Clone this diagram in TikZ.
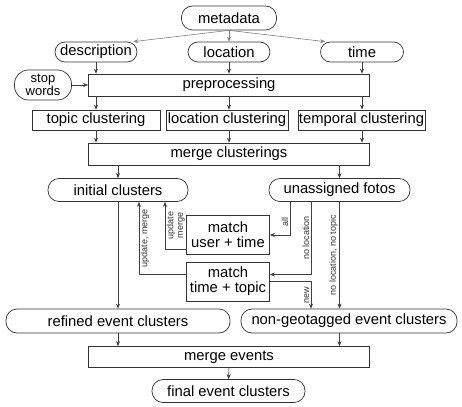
\documentclass[tikz,border=0pt]{standalone}
\usepackage{fontspec}
\setmainfont{Liberation Sans}
\usetikzlibrary{arrows.meta}

\begin{document}
\begin{tikzpicture}[x=1pt,y=-1pt,
	font=\fontsize{14.8}{15}\selectfont,
	box/.style={draw=black!80,line width=0.7pt,inner sep=0pt,align=center},
	pill/.style={box,rounded corners=11pt},
	arr/.style={draw=black!75,line width=0.6pt,-{Stealth[length=5pt,width=4pt]}},
	arrlight/.style={arr,draw=black!50},
	lbl/.style={font=\fontsize{9}{9.5}\selectfont,text=black!80,rotate=90,inner sep=1.5pt,align=center}]
	\useasboundingbox (0,0) rectangle (462,406);
	% inputs
	\node[pill,minimum width=95pt,minimum height=24pt] (meta) at (229,18) {metadata};
	\node[pill,minimum width=82pt,minimum height=20pt,rounded corners=10pt] (desc) at (96,52) {description};
	\node[pill,minimum width=82pt,minimum height=20pt,rounded corners=10pt] (loc) at (229,52) {location};
	\node[pill,minimum width=83pt,minimum height=20pt,rounded corners=10pt] (time) at (362,52) {time};
	\node[pill,minimum width=57pt,minimum height=30pt,rounded corners=14pt,font=\fontsize{13}{13}\selectfont] (stop) at (43,85) {stop\\words};
	\node[box,minimum width=281pt,minimum height=22pt] (pre) at (229,85) {preprocessing};
	% clusterings
	\node[box,minimum width=128pt,minimum height=20pt] (topic) at (96,120) {topic clustering};
	\node[box,minimum width=122pt,minimum height=20pt] (loccl) at (227,120) {location clustering};
	\node[box,minimum width=127pt,minimum height=20pt] (temp) at (361.5,120) {temporal clustering};
	\node[box,minimum width=281pt,minimum height=22pt] (mergecl) at (229,154) {merge clusterings};
	\node[pill,minimum width=140pt,minimum height=23pt] (init) at (118,190) {initial clusters};
	\node[pill,minimum width=141pt,minimum height=23pt] (unas) at (339.5,190) {unassigned fotos};
	% matching
	\node[box,minimum width=83pt,minimum height=39pt] (mut) at (228,235) {match\\user + time};
	\node[box,minimum width=83pt,minimum height=39pt] (mtt) at (228,281.5) {match\\time + topic};
	% results
	\node[pill,minimum width=224pt,minimum height=24pt] (refined) at (118,321) {refined event clusters};
	\node[pill,minimum width=216pt,minimum height=24pt] (nongeo) at (349,321) {non-geotagged event clusters};
	\node[box,minimum width=281pt,minimum height=21pt] (mergeev) at (229,357) {merge events};
	\node[pill,minimum width=153pt,minimum height=23pt] (final) at (228.5,391) {final event clusters};

	\draw[arrlight] (meta.south) -- ([xshift=-4pt]desc.north east);
	\draw[arrlight] (meta.south) -- (loc.north);
	\draw[arrlight] (meta.south) -- ([xshift=5pt]time.north west);
	\draw[arr] (desc.south) -- (desc.south |- pre.north);
	\draw[arr] (loc.south) -- (loc.south |- pre.north);
	\draw[arr] (time.south) -- (time.south |- pre.north);
	\draw[arr] (stop.east) -- (pre.west);
	\draw[arr] (topic.north |- pre.south) -- (topic.north);
	\draw[arr] (pre.south) -- (pre.south |- loccl.north);
	\draw[arr] (time.south |- pre.south) -- (time.south |- temp.north);
	\draw[arr] (topic.south) -- (topic.south |- mergecl.north);
	\draw[arr] (pre.south |- loccl.south) -- (pre.south |- mergecl.north);
	\draw[arr] (time.south |- temp.south) -- (time.south |- mergecl.north);
	\draw[arr] (init.north |- mergecl.south) -- (init.north);
	\draw[arr] (unas.north |- mergecl.south) -- (unas.north);
	\draw[arr] (init.south) -- (init.south |- refined.north);
	\draw[arr] (unas.south) -- node[lbl,anchor=south] {no location, no topic} (unas.south |- nongeo.north);
	\draw[arr] ([xshift=-49.5pt]unas.south) |- node[lbl,anchor=south,pos=0.3] {all} (mut.east);
	\draw[arr] ([xshift=-28.5pt]unas.south) |- node[lbl,anchor=south,pos=0.25] {no location} ([yshift=7pt]mtt.east);
	\draw[arr] (mtt.east) -| node[lbl,anchor=south,pos=0.75] {new} ([xshift=-38pt]nongeo.north);
	\draw[arr] ([yshift=-14pt]mut.west) -| node[lbl,anchor=north,pos=0.75] {update\\merge} ([xshift=47pt]init.south);
	\draw[arr] ([yshift=7pt]mtt.west) -| node[lbl,anchor=north,pos=0.75] {update, merge} ([xshift=21pt]init.south);
	\draw[arr] (refined.south) -- (refined.south |- mergeev.north);
	\draw[arr] (unas.south |- nongeo.south) -- (unas.south |- mergeev.north);
	\draw[arr] (mergeev.south) -- (final.north);
\end{tikzpicture}
\end{document}
